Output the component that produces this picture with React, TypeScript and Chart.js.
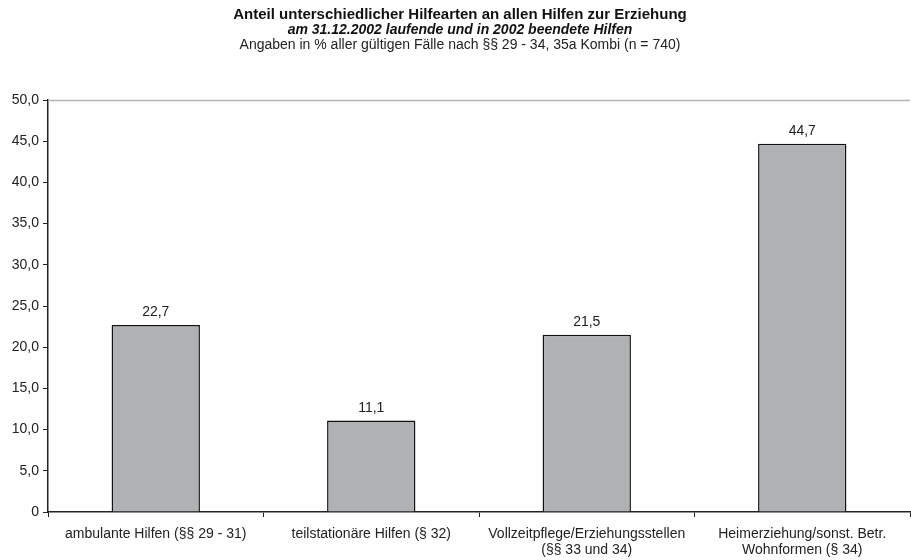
import React, { useEffect, useRef } from "react";
import { Chart, registerables } from "chart.js";

Chart.register(...registerables);

const titleLines = [
  "Anteil unterschiedlicher Hilfearten an allen Hilfen zur Erziehung",
  "am 31.12.2002 laufende und in 2002 beendete Hilfen",
  "Angaben in % aller gültigen Fälle nach §§ 29 - 34, 35a Kombi (n = 740)",
];
const categories: string[][] = [
  ["ambulante Hilfen (§§ 29 - 31)"],
  ["teilstationäre Hilfen (§ 32)"],
  ["Vollzeitpflege/Erziehungsstellen", "(§§ 33 und 34)"],
  ["Heimerziehung/sonst. Betr.", "Wohnformen (§ 34)"],
];
const values = [22.7, 11.1, 21.5, 44.7];
const yMax = 50;
const yStep = 5;

const FONT = "Arial, 'Liberation Sans', Helvetica, sans-serif";
const fmt = (v: number) => (v === 0 ? "0" : v.toFixed(1).replace(".", ","));

const overlay = {
  id: "overlay",
  afterDraw(chart: any) {
    const { ctx, chartArea } = chart;
    ctx.save();
    // titles
    ctx.textAlign = "center";
    ctx.textBaseline = "middle";
    ctx.fillStyle = "#111";
    const cx = 460;
    ctx.font = `bold 15px ${FONT}`;
    ctx.fillText(titleLines[0], cx, 15);
    ctx.font = `italic bold 14px ${FONT}`;
    ctx.fillText(titleLines[1], cx, 30);
    ctx.font = `14px ${FONT}`;
    ctx.fillStyle = "#222";
    ctx.fillText(titleLines[2], cx, 45);
    // top border line
    ctx.strokeStyle = "#b3b3b3";
    ctx.lineWidth = 1.5;
    ctx.beginPath();
    ctx.moveTo(chartArea.left, chartArea.top + 0.5);
    ctx.lineTo(chartArea.right, chartArea.top + 0.5);
    ctx.stroke();
    // value labels
    ctx.fillStyle = "#222";
    ctx.font = `14px ${FONT}`;
    ctx.textBaseline = "alphabetic";
    const meta = chart.getDatasetMeta(0);
    meta.data.forEach((bar: any, i: number) => {
      ctx.fillText(fmt(values[i]), bar.x, bar.y - 9);
    });
    ctx.restore();
  },
};

export default function App() {
  const ref = useRef<HTMLCanvasElement>(null);
  useEffect(() => {
    document.body.style.margin = "0";
    const chart = new Chart(ref.current!, {
      type: "bar",
      data: {
        labels: categories,
        datasets: [
          {
            data: values,
            backgroundColor: "#afb1b3",
            borderColor: "#111",
            borderWidth: 1.5,
            categoryPercentage: 1,
            barPercentage: 0.41,
          },
        ],
      },
      options: {
        animation: false,
        responsive: false,
        maintainAspectRatio: false,
        layout: { padding: { top: 100, right: 1, left: 0, bottom: 0 } },
        plugins: { legend: { display: false }, tooltip: { enabled: false } },
        scales: {
          x: {
            offset: true,
            afterFit: (s: any) => {
              s.height = 48;
            },
            grid: {
              offset: true,
              drawOnChartArea: false,
              drawTicks: true,
              tickLength: 5,
              color: "#222",
            },
            border: { display: true, color: "#222", width: 1.5 },
            ticks: {
              color: "#222",
              font: { family: FONT, size: 14, lineHeight: 1.15 },
              padding: 9,
              maxRotation: 0,
              autoSkip: false,
            },
          },
          y: {
            min: 0,
            max: yMax,
            afterFit: (s: any) => {
              s.width = 48;
            },
            grid: {
              drawOnChartArea: false,
              drawTicks: true,
              tickLength: 5,
              color: "#222",
            },
            border: { display: true, color: "#222", width: 1.5 },
            ticks: {
              stepSize: yStep,
              color: "#222",
              font: { family: FONT, size: 14 },
              padding: 4,
              callback: (v: any) => fmt(Number(v)),
            },
          },
        },
      },
      plugins: [overlay],
    });
    return () => chart.destroy();
  }, []);
  return <canvas ref={ref} width={911} height={560} style={{ display: "block" }} />;
}
